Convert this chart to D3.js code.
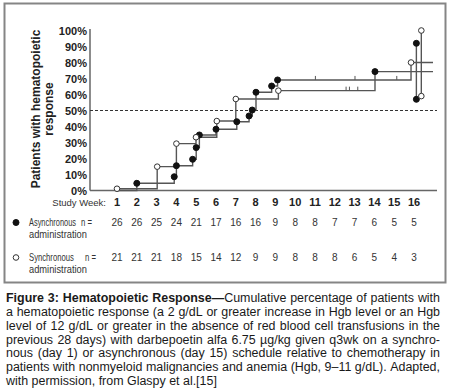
<!DOCTYPE html>
<html><head><meta charset="utf-8">
<script src="https://cdn.jsdelivr.net/npm/d3@7"></script>
<style>
html,body{margin:0;padding:0;background:#fff;}
svg{display:block;font-family:"Liberation Sans",Arial,Helvetica,sans-serif;}
</style></head>
<body>
<svg id="chart" width="450" height="391"></svg>
<script>
// ---------- data ----------
const weeks = [1,2,3,4,5,6,7,8,9,10,11,12,13,14,15,16];
const asyncN = [26,26,25,24,21,17,16,16,9,8,8,7,7,6,5,5];
const syncN  = [21,21,21,18,15,14,12,9,9,8,8,8,6,5,4,3];
const yTicks = [0,10,20,30,40,50,60,70,80,90,100];

// step curves as drawn (week, cumulative %)
const asyncStepWeeks = [1, 2, 3.89, 4.0, 4.82, 5.0, 5.16, 6.0, 7.05, 7.67, 7.83, 8.02, 8.81, 9.11, 15.85, 16.96];
const asyncStepPct   = [0, 4.5, 8.6, 15.5, 19.5, 26.8, 34.7, 38.3, 43.0, 46.6, 50.3, 61.4, 65.3, 69.1, 80.0, 80.0];
const asyncMarkers   = ["none","filled","filled","filled","filled","filled","filled","filled","filled","filled","filled","filled","filled","filled","open","none"];

const syncStepWeeks = [1.0, 3.03, 4.0, 4.99, 6.04, 7.0, 9.15, 14.03, 16.96];
const syncStepPct   = [1.1, 14.9, 29.3, 33.3, 43.4, 57.2, 62.4, 74.3, 74.3];
const syncMarkers   = ["open","open","open","open","open","open","open","filled","none"];

// censor ticks
const asyncCensorWeeks = [11.02, 13.02, 15.13];
const asyncCensorPct = 69.1;
const syncCensorWeeks = [12.57, 12.74, 13.16];
const syncCensorPct = 62.4;

// confidence intervals at end
const asyncCIWeek = 16.12, asyncCI = [57, 92];
const syncCIWeek = 16.37, syncCI = [59, 100];

const refLine = 50;

const captionBold = "Figure 3: Hematopoietic Response\u2014";
const captionLines = [
 "Figure 3: Hematopoietic Response\u2014Cumulative percentage of patients with",
 "a hematopoietic response (a 2 g/dL or greater increase in Hgb level or an Hgb",
 "level of 12 g/dL or greater in the absence of red blood cell transfusions in the",
 "previous 28 days) with darbepoetin alfa 6.75 \u00b5g/kg given q3wk on a synchro-",
 "nous (day 1) or asynchronous (day 15) schedule relative to chemotherapy in",
 "patients with nonmyeloid malignancies and anemia (Hgb, 9\u201311 g/dL). Adapted,",
 "with permission, from Glaspy et al.[15]"
];

// ---------- drawing ----------
const svg = d3.select("#chart");
const x = d3.scaleLinear().domain([1,16]).range([117,414]);
const y = d3.scaleLinear().domain([0,100]).range([190.5,30.5]);
const axisLeft = 90, axisRight = 437;

// frame
svg.append("rect").attr("x",4.5).attr("y",3.5).attr("width",441).attr("height",279)
  .attr("fill","#fff").attr("stroke","#858585").attr("stroke-width",2);

// axes
svg.append("line").attr("x1",axisLeft).attr("x2",axisLeft).attr("y1",y(100)-1.5).attr("y2",y(0))
  .attr("stroke","#666").attr("stroke-width",1.5);
svg.append("line").attr("x1",axisLeft).attr("x2",axisRight).attr("y1",y(0)).attr("y2",y(0))
  .attr("stroke","#666").attr("stroke-width",1.5);

// y tick labels
svg.append("g").selectAll("text").data(yTicks).join("text")
  .attr("x",87).attr("y",d=>y(d)+4).attr("text-anchor","end")
  .attr("font-size",11).attr("font-weight","bold").attr("fill","#222")
  .text(d=>d+"%");

// y title
svg.append("text").attr("transform","translate(39.5,109) rotate(-90)")
  .attr("text-anchor","middle").attr("font-size",12).attr("font-weight","bold").attr("fill","#222")
  .text("Patients with hematopoietic");
svg.append("text").attr("transform","translate(52.5,109) rotate(-90)")
  .attr("text-anchor","middle").attr("font-size",12).attr("font-weight","bold").attr("fill","#222")
  .text("response");

// x tick labels
svg.append("text").attr("x",106).attr("y",206).attr("text-anchor","end")
  .attr("font-size",9.5).attr("fill","#333").text("Study Week:");
svg.append("g").selectAll("text").data(weeks).join("text")
  .attr("x",d=>x(d)).attr("y",206).attr("text-anchor","middle")
  .attr("font-size",11).attr("font-weight","bold").attr("fill","#222").text(d=>d);

// reference dashed line
svg.append("line").attr("x1",axisLeft).attr("x2",axisRight).attr("y1",y(refLine)).attr("y2",y(refLine))
  .attr("stroke","#333").attr("stroke-width",1).attr("stroke-dasharray","3,2");

// step lines
const line = d3.line().x(d=>x(d[0])).y(d=>y(d[1])).curve(d3.curveStepAfter);
const asyncPts = asyncStepWeeks.map((w,i)=>[w,asyncStepPct[i],asyncMarkers[i]]);
const syncPts  = syncStepWeeks.map((w,i)=>[w,syncStepPct[i],syncMarkers[i]]);
[asyncPts, syncPts].forEach(pts=>{
  svg.append("path").attr("d",line(pts)).attr("fill","none")
    .attr("stroke","#555").attr("stroke-width",1.4);
});

// censor ticks
svg.append("g").selectAll("line").data(asyncCensorWeeks).join("line")
  .attr("x1",d=>x(d)).attr("x2",d=>x(d)).attr("y1",y(asyncCensorPct)-4).attr("y2",y(asyncCensorPct))
  .attr("stroke","#555").attr("stroke-width",1);
svg.append("g").selectAll("line").data(syncCensorWeeks).join("line")
  .attr("x1",d=>x(d)).attr("x2",d=>x(d)).attr("y1",y(syncCensorPct)-4).attr("y2",y(syncCensorPct))
  .attr("stroke","#555").attr("stroke-width",1);

// CI bars
[[asyncCIWeek,asyncCI,"filled"],[syncCIWeek,syncCI,"open"]].forEach(([w,ci,kind])=>{
  svg.append("line").attr("x1",x(w)).attr("x2",x(w)).attr("y1",y(ci[0])).attr("y2",y(ci[1]))
    .attr("stroke","#555").attr("stroke-width",1.4);
  ci.forEach(v=>{
    svg.append("circle").attr("cx",x(w)).attr("cy",y(v)).attr("r",kind==="filled"?3:2.8)
      .attr("fill",kind==="filled"?"#111":"#fff").attr("stroke",kind==="filled"?"#111":"#333").attr("stroke-width",1);
  });
});

// markers
const allPts = asyncPts.concat(syncPts).filter(d=>d[2]!=="none");
svg.append("g").selectAll("circle").data(allPts).join("circle")
  .attr("cx",d=>x(d[0])).attr("cy",d=>y(d[1])).attr("r",d=>d[2]==="filled"?3:2.8)
  .attr("fill",d=>d[2]==="filled"?"#111":"#fff")
  .attr("stroke",d=>d[2]==="filled"?"#111":"#333").attr("stroke-width",1);

// n rows (labels horizontally condensed like the original narrow type)
function condensedText(str, x0, y0, maxW){
  const t = svg.append("text").attr("x",0).attr("y",0).attr("font-size",10).attr("fill","#333").text(str);
  const w = t.node().getComputedTextLength();
  const s = Math.min(1, maxW / w);
  t.attr("transform",`translate(${x0},${y0}) scale(${s},1)`);
  return t;
}
function nRow(label, nvals, cy, kind, nx, labelW){
  svg.append("circle").attr("cx",16).attr("cy",cy).attr("r",kind==="filled"?3:2.8)
    .attr("fill",kind==="filled"?"#111":"#fff").attr("stroke",kind==="filled"?"#111":"#333").attr("stroke-width",1);
  condensedText(label, 29, cy+3.5, labelW);
  condensedText("administration", 29, cy+15, 58);
  condensedText("n =", nx, cy+3.5, 11);
  svg.append("g").selectAll("text").data(nvals).join("text")
    .attr("x",(d,i)=>x(weeks[i])).attr("y",cy+3.5).attr("text-anchor","middle")
    .attr("font-size",10).attr("fill","#333").text(d=>d);
}
nRow("Asynchronous", asyncN, 222.5, "filled", 81, 47);
nRow("Synchronous", syncN, 257.5, "open", 85, 45);

// caption, justified; font size fitted so the widest line fills the width
const capX0 = 6, capX1 = 440;
function buildLine(ln, li, fs, by){
  const words = ln.split(" ");
  let offset = 0;
  return words.map(w=>{
    const t = svg.append("text").attr("y",by).attr("font-size",fs).attr("fill","#1a1a1a");
    const start = offset, end = offset + w.length;
    if (li===0 && start < captionBold.length){
      const cut = Math.min(end, captionBold.length) - start;
      t.append("tspan").attr("font-weight","bold").text(w.slice(0,cut));
      if (cut < w.length) t.append("tspan").text(w.slice(cut));
    } else {
      t.text(w);
    }
    offset = end + 1;
    return t;
  });
}
let maxRatio = 0;
captionLines.slice(0,-1).forEach((ln,li)=>{
  const nodes = buildLine(ln, li, 10, -100);
  const w = d3.sum(nodes, n=>n.node().getComputedTextLength()) + (nodes.length-1)*2.78;
  maxRatio = Math.max(maxRatio, w/(capX1-capX0));
  nodes.forEach(n=>n.remove());
});
const capFs = Math.min(13, 10/maxRatio);
captionLines.forEach((ln,li)=>{
  const by = 302 + li*13.85;
  const nodes = buildLine(ln, li, capFs, by);
  const widths = nodes.map(n=>n.node().getComputedTextLength());
  const total = d3.sum(widths);
  const last = li === captionLines.length-1;
  const gap = last ? capFs*0.278 : (capX1-capX0-total)/(nodes.length-1);
  let cx = capX0;
  nodes.forEach((n,i)=>{ n.attr("x",cx); cx += widths[i] + gap; });
});
</script>
</body></html>
